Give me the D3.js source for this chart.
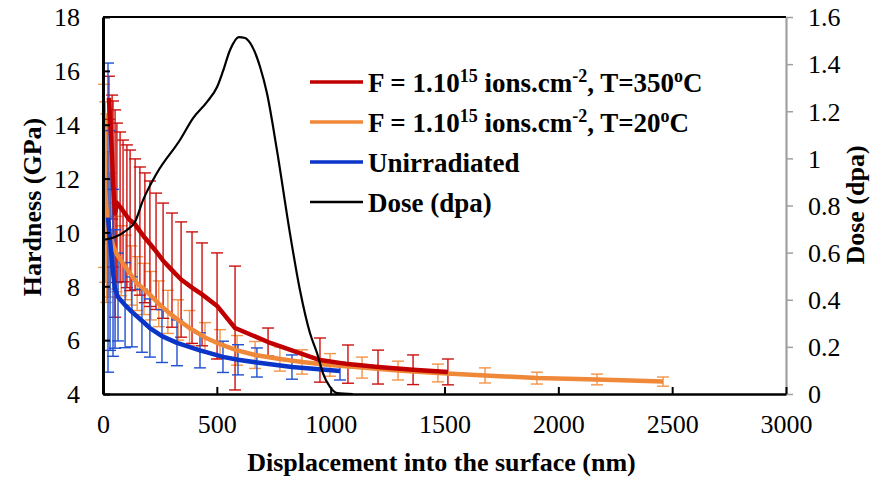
<!DOCTYPE html>
<html>
<head>
<meta charset="utf-8">
<script src="https://cdn.jsdelivr.net/npm/d3@7"></script>
<style>
  body { margin: 0; background: #fff; }
  text { font-family: "Liberation Serif", "Times New Roman", serif; fill: #000; }
  .tick text { font-size: 26px; }
  .axis-title { font-size: 26px; font-weight: bold; }
  .legend text { font-size: 27px; font-weight: bold; }
</style>
</head>
<body>
<div id="chart"></div>
<script>
// Hardness, F = 1e15 ions/cm2, T = 350 C
var red_nm  = [26, 40, 44, 53, 61, 75, 88, 105, 119, 141, 162, 184, 206, 233, 264, 303, 343, 391, 435, 501, 580, 725, 953, 1076, 1208, 1362, 1515];
var red_val = [15.0, 12.8, 11.8, 10.7, 11.1, 10.95, 10.8, 10.6, 10.45, 10.3, 10.05, 9.8, 9.58, 9.3, 8.95, 8.6, 8.25, 7.95, 7.7, 7.27, 6.45, 5.93, 5.26, 5.11, 5.0, 4.9, 4.82];
var red_err = [0.8, 2.3, 3.08, 3.85, 2.96, 2.78, 2.63, 2.65, 2.61, 2.43, 2.38, 2.41, 2.33, 2.16, 2.14, 2.12, 2.14, 2.07, 1.91, 1.97, 2.3, 0.52, 0.82, 0.71, 0.63, 0.55, 0.48];

// Hardness, F = 1e15 ions/cm2, T = 20 C
var orange_nm  = [5, 10, 15, 22, 31, 45, 60, 80, 100, 125, 150, 180, 210, 245, 285, 330, 380, 448, 514, 589, 668, 777, 874, 997, 1138, 1296, 1471, 1678, 1906, 2170, 2460];
var orange_val = [12.1, 11.5, 10.9, 10.3, 9.9, 9.5, 9.2, 8.95, 8.7, 8.4, 8.1, 7.9, 7.65, 7.35, 7.05, 6.75, 6.45, 6.1, 5.85, 5.62, 5.45, 5.3, 5.19, 5.08, 4.98, 4.87, 4.78, 4.69, 4.59, 4.54, 4.46];
var orange_err = [3.4, 3.35, 3.5, 2.7, 2.3, 1.6, 1.4, 1.3, 1.2, 1.1, 1.0, 0.95, 0.9, 0.85, 0.8, 0.75, 0.65, 0.55, 0.54, 0.55, 0.5, 0.45, 0.45, 0.42, 0.39, 0.35, 0.33, 0.28, 0.22, 0.2, 0.17];

// Hardness, unirradiated
var blue_nm  = [22, 31, 44, 53, 66, 97, 127, 171, 206, 259, 325, 426, 527, 593, 676, 830, 1041];
var blue_val = [10.55, 9.7, 8.5, 7.9, 7.6, 7.3, 7.05, 6.72, 6.45, 6.15, 5.9, 5.62, 5.38, 5.27, 5.17, 5.0, 4.85];
var blue_err = [5.74, 4.08, 3.1, 2.2, 1.63, 1.58, 1.3, 1.17, 1.08, 0.98, 0.85, 0.65, 0.58, 0.56, 0.54, 0.45, 0.33];

// Dose profile (dpa)
var dose_nm  = [0, 53, 105, 140, 176, 237, 338, 395, 457, 501, 527, 558, 597, 624, 646, 690, 720, 764, 821, 865, 909, 940, 966, 997, 1028, 1098];
var dose_dpa = [0.654, 0.666, 0.696, 0.73, 0.823, 0.938, 1.078, 1.17, 1.24, 1.303, 1.37, 1.46, 1.515, 1.511, 1.49, 1.388, 1.277, 1.035, 0.683, 0.441, 0.259, 0.174, 0.089, 0.03, 0.004, 0];

// Axis ticks
var x_ticks = [0, 500, 1000, 1500, 2000, 2500, 3000];
var y_ticks = [4, 6, 8, 10, 12, 14, 16, 18];
var y2_ticks = [0, 0.2, 0.4, 0.6, 0.8, 1, 1.2, 1.4, 1.6];

// Legend labels: [text, superscript, text, superscript, text, superscript, text]
var legend_labels = [
    ["F = 1.10", "15", " ions.cm", "-2", ", T=350", "o", "C"],
    ["F = 1.10", "15", " ions.cm", "-2", ", T=20", "o", "C"],
    ["Unirradiated"],
    ["Dose (dpa)"]
];
var legend_colors = ["#c00000", "#f0883a", "#0a35c8", "#000000"];

var svg_width = 880, svg_height = 479;
var plot = {left: 103, right: 786, top: 17, bottom: 394};

var xScale = d3.scaleLinear().domain([0, 3000]).range([plot.left, plot.right]);
var yScale = d3.scaleLinear().domain([4, 18]).range([plot.bottom, plot.top]);
var y2Scale = d3.scaleLinear().domain([0, 1.6]).range([plot.bottom, plot.top]);

var svg = d3.select("#chart")
    .append("svg")
    .attr("width", svg_width)
    .attr("height", svg_height);

/**
 * ERROR BARS (drawn first so the lines sit on top)
 */
function errorBars(nm, val, err, color) {
    var pts = nm.map(function (d, i) { return {x: d, y: val[i], e: err[i]}; });
    var g = svg.append("g")
        .attr("stroke", color)
        .attr("stroke-width", 1.4)
        .attr("fill", "none");
    g.selectAll("line.v").data(pts).enter().append("line")
        .attr("x1", function (d) { return xScale(d.x); })
        .attr("x2", function (d) { return xScale(d.x); })
        .attr("y1", function (d) { return yScale(d.y + d.e); })
        .attr("y2", function (d) { return yScale(d.y - d.e); });
    [1, -1].forEach(function (s) {
        g.selectAll("line.c" + s).data(pts).enter().append("line")
            .attr("x1", function (d) { return xScale(d.x) - 6; })
            .attr("x2", function (d) { return xScale(d.x) + 6; })
            .attr("y1", function (d) { return yScale(d.y + s * d.e); })
            .attr("y2", function (d) { return yScale(d.y + s * d.e); });
    });
}

errorBars(orange_nm, orange_val, orange_err, "#f39447");
errorBars(red_nm, red_val, red_err, "#cc1010");
errorBars(blue_nm, blue_val, blue_err, "#2050d0");

/**
 * HARDNESS LINES
 */
var hardLine = d3.line()
    .x(function (d) { return xScale(d[0]); })
    .y(function (d) { return yScale(d[1]); });

function drawSeries(nm, val, color) {
    svg.append("path")
        .datum(nm.map(function (d, i) { return [d, val[i]]; }))
        .attr("d", hardLine)
        .attr("fill", "none")
        .attr("stroke", color)
        .attr("stroke-width", 4.5)
        .attr("stroke-linejoin", "round");
}

drawSeries(orange_nm, orange_val, legend_colors[1]);
drawSeries(blue_nm, blue_val, legend_colors[2]);
drawSeries(red_nm, red_val, legend_colors[0]);

// Dose curve on the secondary axis
var doseLine = d3.line()
    .x(function (d) { return xScale(d[0]); })
    .y(function (d) { return y2Scale(d[1]); })
    .curve(d3.curveMonotoneX);

svg.append("path")
    .datum(dose_nm.map(function (d, i) { return [d, dose_dpa[i]]; }))
    .attr("d", doseLine)
    .attr("fill", "none")
    .attr("stroke", "#000")
    .attr("stroke-width", 2.2);

/**
 * AXES
 */
// top border
svg.append("line")
    .attr("x1", plot.left).attr("x2", plot.right)
    .attr("y1", plot.top).attr("y2", plot.top)
    .attr("stroke", "#000").attr("stroke-width", 2.2);

// right axis (gray)
var yRight = svg.append("g")
    .attr("transform", "translate(" + plot.right + ",0)")
    .call(d3.axisRight(y2Scale).tickValues(y2_ticks).tickSizeInner(7).tickSizeOuter(0).tickPadding(15)
        .tickFormat(function (d) { return String(+d.toFixed(1)); }));
yRight.select(".domain").attr("stroke", "#a0a0a0").attr("stroke-width", 2.2);
yRight.selectAll(".tick line").attr("stroke", "#a0a0a0").attr("stroke-width", 1.5);
yRight.selectAll(".tick text").attr("dy", "0.34em");

// bottom axis
var xAxis = svg.append("g")
    .attr("transform", "translate(0," + plot.bottom + ")")
    .call(d3.axisBottom(xScale).tickValues(x_ticks).tickSizeInner(-7).tickSizeOuter(0).tickPadding(21)
        .tickFormat(d3.format("d")));
xAxis.select(".domain").attr("stroke", "#000").attr("stroke-width", 2.6);
xAxis.selectAll(".tick line").attr("stroke", "#000").attr("stroke-width", 2);

// left axis
var yAxis = svg.append("g")
    .attr("transform", "translate(" + plot.left + ",0)")
    .call(d3.axisLeft(yScale).tickValues(y_ticks).tickSizeInner(-7).tickSizeOuter(0).tickPadding(23));
yAxis.select(".domain").attr("stroke", "#000").attr("stroke-width", 3);
yAxis.selectAll(".tick line").attr("stroke", "#000").attr("stroke-width", 2);
yAxis.selectAll(".tick text").attr("dy", "0.34em");

svg.selectAll(".tick text").style("font-size", "26px").attr("fill", "#000");

// axis titles
svg.append("text")
    .attr("class", "axis-title")
    .attr("x", (plot.left + plot.right) / 2 - 3)
    .attr("y", 471)
    .attr("text-anchor", "middle")
    .text("Displacement into the surface (nm)");

svg.append("text")
    .attr("class", "axis-title")
    .attr("transform", "translate(41," + 207 + ")rotate(-90)")
    .attr("text-anchor", "middle")
    .text("Hardness (GPa)");

svg.append("text")
    .attr("class", "axis-title")
    .attr("transform", "translate(864," + 205 + ")rotate(-90)")
    .attr("text-anchor", "middle")
    .text("Dose (dpa)");

/**
 * LEGEND
 */
var legend_y = [82, 122, 162, 202];
var legend = svg.append("g").attr("class", "legend");

legend_labels.forEach(function (parts, i) {
    legend.append("line")
        .attr("x1", 310).attr("x2", 363)
        .attr("y1", legend_y[i]).attr("y2", legend_y[i])
        .attr("stroke", legend_colors[i])
        .attr("stroke-width", i === 3 ? 2.5 : 3.5);
    var t = legend.append("text")
        .attr("x", 368)
        .attr("y", legend_y[i] + 10);
    parts.forEach(function (p, k) {
        var sup = k % 2 === 1;
        t.append("tspan")
            .attr("dy", sup ? -10 : (k > 0 ? 10 : 0))
            .style("font-size", sup ? "18px" : null)
            .text(p);
    });
});
</script>
</body>
</html>
